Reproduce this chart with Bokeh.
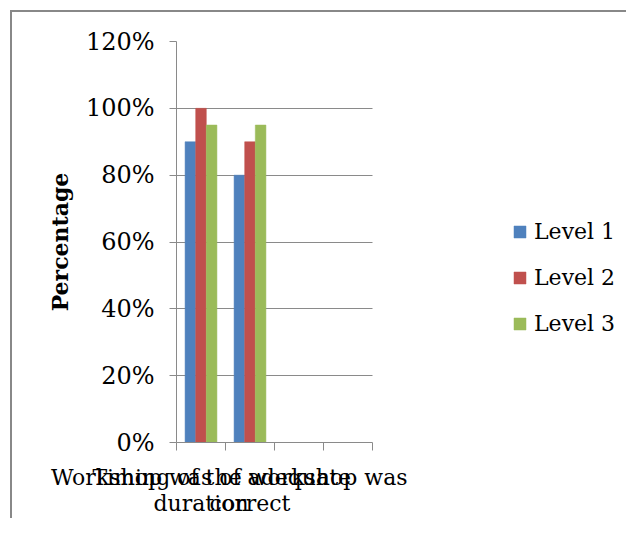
import numpy as np
from bokeh.plotting import figure
from bokeh.models import FixedTicker, Range1d, Legend, LegendItem, PrintfTickFormatter, InlineStyleSheet
from bokeh.embed import file_html
from bokeh.resources import INLINE

# ---- data ----
categories = ["Workshop was of adequate duration", "Timing of the workshop was correct"]
category_tick_labels = ["Workshop was of adequate\nduration", "Timing of the workshop was\ncorrect"]
n_slots = 4  # category slots on the axis (last two empty)
series = ["Level 1", "Level 2", "Level 3"]
level1 = [90, 80]
level2 = [100, 90]
level3 = [95, 95]
y_ticks = [0, 20, 40, 60, 80, 100, 120]

colors = ["#4F81BD", "#C0504D", "#9BBB59"]
FONT = "DejaVu Serif"
GRAY = "#8a8a8a"

W, H = 626, 518
LEFT, TOP, BOTTOM = 176, 41, 445     # frame edges (canvas px)
FRAME_RIGHT = 620
SLOT_W = 196                         # pixel width of the category slots
frame_w = FRAME_RIGHT - LEFT
x_end = n_slots * frame_w / SLOT_W

p = figure(width=W, height=H, output_backend="svg", toolbar_location=None,
           x_range=Range1d(0, x_end), y_range=Range1d(0, 120),
           min_border_left=LEFT, min_border_top=TOP, min_border_bottom=H - BOTTOM,
           min_border_right=W - FRAME_RIGHT)
p.outline_line_color = None
p.background_fill_color = "white"
p.border_fill_color = "white"
# outer chart-area border (only its left and top edges are visible in the reference)
p.stylesheets = [InlineStyleSheet(css="""
:host { overflow: visible; }
:host::after {
  content: "";
  position: absolute;
  left: 10px; top: 10px; right: 0px; height: 2px;
  background: #888888;
  pointer-events: none;
  z-index: 1000;
}
:host::before {
  content: "";
  position: absolute;
  left: 10px; top: 10px; width: 2px; bottom: 0px;
  background: #888888;
  pointer-events: none;
  z-index: 1000;
}
""")]

centers = np.arange(len(categories)) + 0.5
group = 0.65
bw = group / len(series)
renderers = []
for i, (vals, c) in enumerate(zip([level1, level2, level3], colors)):
    off = (i - 1) * bw
    r = p.vbar(x=centers + off, top=vals, width=bw, fill_color=c, line_color=c, line_width=0.5)
    renderers.append(r)

# y axis
p.yaxis.ticker = FixedTicker(ticks=y_ticks, minor_ticks=[])
p.yaxis.formatter = PrintfTickFormatter(format="%d%%")
p.yaxis.axis_line_color = GRAY
p.yaxis.major_tick_line_color = GRAY
p.yaxis.major_tick_out = 7
p.yaxis.major_tick_in = 0
p.yaxis.minor_tick_line_color = None
p.yaxis.major_label_text_font = FONT
p.yaxis.major_label_text_font_size = "24px"
p.yaxis.major_label_text_color = "black"
p.yaxis.major_label_standoff = 15
p.yaxis.axis_label = "Percentage"
p.yaxis.axis_label_text_font = FONT
p.yaxis.axis_label_text_font_size = "22px"
p.yaxis.axis_label_text_font_style = "bold"
p.yaxis.axis_label_text_color = "black"
p.yaxis.axis_label_standoff = 10

# x axis
p.xaxis.ticker = FixedTicker(ticks=list(centers), minor_ticks=list(range(n_slots + 1)))
p.xaxis.major_label_overrides = {float(c): lab for c, lab in zip(centers, category_tick_labels)}
p.xaxis.bounds = (0, n_slots)
p.xaxis.axis_line_color = GRAY
p.xaxis.major_tick_line_color = None
p.xaxis.major_tick_out = 0
p.xaxis.major_tick_in = 0
p.xaxis.minor_tick_line_color = GRAY
p.xaxis.minor_tick_out = 8
p.xaxis.minor_tick_in = 0
p.xaxis.major_label_text_font = FONT
p.xaxis.major_label_text_font_size = "22px"
p.xaxis.major_label_text_line_height = 1.05
p.xaxis.major_label_text_color = "black"
p.xaxis.major_label_standoff = 14

# grid
p.xgrid.grid_line_color = None
try:
    p.ygrid.ticker = FixedTicker(ticks=y_ticks)
    p.ygrid.cross_bounds = (0, n_slots)
    p.ygrid.grid_line_color = GRAY
    p.ygrid.grid_line_width = 1
except Exception:
    p.ygrid.grid_line_color = None
    p.segment(x0=[0] * len(y_ticks), x1=[n_slots] * len(y_ticks), y0=y_ticks, y1=y_ticks,
              line_color=GRAY, line_width=1, level="underlay")

legend = Legend(items=[LegendItem(label=s, renderers=[r]) for s, r in zip(series, renderers)],
                location=(336, 106), orientation="vertical")
legend.label_text_font = FONT
legend.label_text_font_size = "22px"
legend.label_text_color = "black"
legend.glyph_width = 15
legend.glyph_height = 15
legend.label_height = 26
legend.label_standoff = 7
legend.spacing = 20
legend.padding = 0
legend.margin = 0
legend.border_line_color = None
legend.background_fill_alpha = 0
p.add_layout(legend, "center")

open("out.html", "w").write(file_html(p, INLINE))
